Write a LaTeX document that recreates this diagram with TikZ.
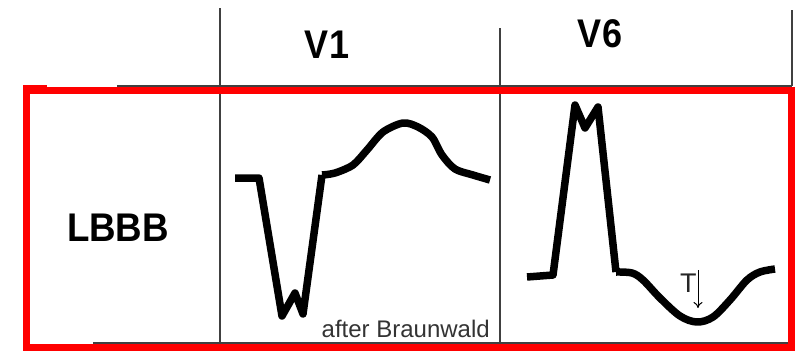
\documentclass[tikz,border=0pt]{standalone}
\usepackage{fontspec}
\setmainfont{Liberation Sans}
\usetikzlibrary{arrows.meta}
\tikzset{
  grid/.style={draw=black!75, line width=1.3pt},
  frame/.style={draw=red, line width=7pt},
  wave/.style={draw=black, line width=7.5pt, line join=round, line cap=butt},
  head/.style={font=\fontsize{40}{40}\selectfont\bfseries, inner sep=0pt, xscale=0.9},
  small/.style={font=\fontsize{24}{24}\selectfont, inner sep=0pt, text=black!80}
}
\begin{document}
\begin{tikzpicture}[x=1pt,y=-1pt]
\useasboundingbox (0,0) rectangle (802,351);
% grid lines
\draw[grid] (220,8) -- (220,345);
\draw[grid] (500,28) -- (500,345);
\draw[grid] (792,10) -- (792,86);
\draw[grid] (117,86) -- (792,86);
\draw[grid] (93,343) -- (792,343);
% red frame
\fill[red] (23,85) rectangle (47,91);
\draw[frame] (26.5,90.5) rectangle (791.5,347.5);
% labels
\node[head] (v1) at (327,45) {V1};
\node[head] (v6) at (600,34) {V6};
\node[head, xscale=1.02] (lbbb) at (118,228) {LBBB};
\node[small, anchor=base east] (src) at (490,337) {after Braunwald};
\node[small, anchor=base west, font=\fontsize{27}{27}\selectfont, text=black!85] (t) at (680,292) {T};
\coordinate (ta) at (698,270);
\coordinate (tb) at (698,308);
\draw[line width=1pt, -{To[length=6pt,width=9pt]}] (ta) -- (tb);
% V1 waveform
\draw[wave] (235,178) -- (259,178) -- (282,316) -- (295,293) -- (303,314) -- (322,175)
  plot[smooth, tension=0.5] coordinates {(322,175) (335,173) (353,165) (367,150) (383,132) (403,123) (418,127) (432,137) (442,155) (455,169) (473,175) (490,180)};
% V6 waveform
\draw[wave] (527,277) -- (553,275) -- (575,105) -- (585,128) -- (598,107) -- (616,272)
  plot[smooth, tension=0.55] coordinates {(616,272) (632,273) (643,280) (660,298) (680,316) (697,322) (713,317) (730,300) (747,280) (760,272) (775,269)};
\end{tikzpicture}
\end{document}
